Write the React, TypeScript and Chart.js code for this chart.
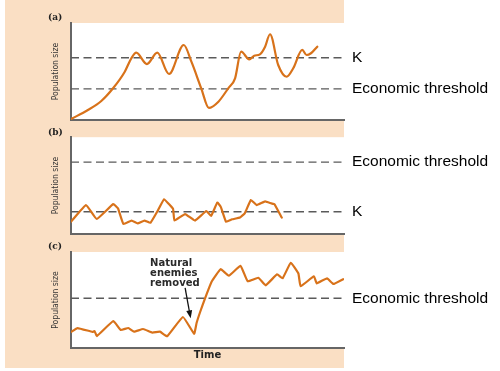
import React, { useEffect, useRef } from 'react';
import { Chart, registerables } from 'chart.js';

Chart.register(...registerables);

// ---------------- data ----------------
const panelLabels = ['(a)', '(b)', '(c)'];
const yTitle = 'Population size';
const xTitle = 'Time';
const kName = 'K';
const thresholdName = 'Economic threshold';
const noteLines = ['Natural', 'enemies', 'removed'];

// (a) population rises to K and fluctuates, sometimes under the threshold
const aTime = [0, 6.2, 11.1, 15.4, 19.7, 22.1, 23.9, 27.8, 31.6, 35.9, 41.3, 44.1, 47.7, 50.5, 54.0, 57.6, 60.1, 62.3, 65.3, 67.1, 69.2, 71.1, 72.9, 75.9, 79.0, 81.4, 84.7, 86.3, 87.9, 90.2];
const aSize = [1, 10.3, 19.6, 32.7, 49.8, 63.6, 69.4, 57.7, 69.4, 47.4, 77.3, 60.1, 32.7, 12.4, 18.9, 32.7, 43, 70.4, 62.6, 66.3, 67.7, 75.6, 88.4, 56.7, 44.6, 53.3, 72.2, 67, 68.8, 75.6];
const aK = 64.2;
const aThreshold = 32;

// (b) population fluctuates around K, far below the threshold
const bTime = [0, 5.5, 9.4, 15.5, 17.2, 19.2, 22.2, 24.4, 26.9, 29.1, 31.9, 34.1, 36.2, 37.4, 37.9, 41.8, 45.4, 49.6, 51.3, 53.6, 54.9, 56.8, 59.0, 61.9, 63.7, 65.9, 68.0, 71.1, 73.4, 74.5, 77.2];
const bSize = [12.7, 29.9, 15.5, 30.9, 26.5, 10.3, 13.9, 11.0, 13.9, 11.6, 24.7, 35.9, 29.9, 25.8, 13.9, 20.6, 13.9, 23.7, 18.6, 32.5, 27.8, 12.7, 15.2, 17.0, 21.6, 35.1, 29.9, 33.7, 31.6, 30.9, 17.0];
const bK = 23;
const bThreshold = 74.2;

// (c) population jumps above the threshold after natural enemies are removed
const cTime = [0, 2.4, 7.9, 8.6, 9.5, 15.5, 18.2, 21.0, 23.1, 26.4, 29.8, 32.6, 35.2, 41.0, 45.1, 46.0, 47.3, 49.1, 51.5, 54.8, 57.8, 62.1, 64.7, 68.6, 71.3, 75.5, 77.5, 80.5, 83.3, 84.1, 89.0, 90.0, 93.8, 96.1, 99.7];
const cSize = [16.7, 20.8, 16.7, 17.7, 12.5, 28.1, 18.8, 20.8, 17.0, 19.8, 16.1, 17.0, 12.2, 32.3, 14.8, 26.0, 37.5, 51.8, 69.1, 82.1, 75.3, 85.6, 69.5, 73.2, 65.3, 76.8, 72.6, 88.8, 77.6, 64.3, 74.7, 67.4, 72.6, 66.7, 71.7];
const cThreshold = 51.8;
const cRemovalTime = 45.1;

// ---------------- style ----------------
const ORANGE = '#D8721A';
const DASH = '#5a5a5a';
const AXIS = '#666666';
const PEACH = '#FADFC4';
const W = 500;
const LAYOUT_LEFT = 48;
const PLOT_LEFT = 71;
const PLOT_RIGHT = 344;
const TITLE_LH = 7.2;
const TOP_GAP = 20;

type RefLine = { value: number; name: string };
type Panel = {
  label: string;
  time: number[];
  size: number[];
  lines: RefLine[];
  labelY: number;
  plotTop: number;
  plotBottom: number;
  canvasBottom: number;
  showX: boolean;
  smooth: boolean;
  removal?: number;
};

const panels: Panel[] = [
  {
    label: panelLabels[0], time: aTime, size: aSize,
    lines: [{ value: aK, name: kName }, { value: aThreshold, name: thresholdName }],
    labelY: 18, plotTop: 23, plotBottom: 120, canvasBottom: 140, showX: false, smooth: true,
  },
  {
    label: panelLabels[1], time: bTime, size: bSize,
    lines: [{ value: bThreshold, name: thresholdName }, { value: bK, name: kName }],
    labelY: 132.8, plotTop: 137, plotBottom: 234, canvasBottom: 254, showX: false, smooth: false,
  },
  {
    label: panelLabels[2], time: cTime, size: cSize,
    lines: [{ value: cThreshold, name: thresholdName }],
    labelY: 247, plotTop: 252, plotBottom: 348, canvasBottom: 371, showX: true, smooth: false,
    removal: cRemovalTime,
  },
];

function buildConfig(p: Panel): any {
  const datasets: any[] = [
    {
      data: p.time.map((t, i) => ({ x: t, y: p.size[i] })),
      borderColor: ORANGE,
      borderWidth: 2.2,
      pointRadius: 0,
      fill: false,
      borderJoinStyle: 'round',
      borderCapStyle: 'round',
      ...(p.smooth ? { cubicInterpolationMode: 'monotone' } : { tension: 0.1 }),
    },
    ...p.lines.map((l) => ({
      data: [{ x: 0, y: l.value }, { x: 100, y: l.value }],
      borderColor: DASH,
      borderWidth: 1.3,
      borderDash: [8, 4.5],
      pointRadius: 0,
      fill: false,
      tension: 0,
    })),
  ];

  const background = {
    id: 'plotBackground',
    beforeDraw(chart: any) {
      const { ctx, chartArea } = chart;
      ctx.save();
      ctx.fillStyle = '#ffffff';
      ctx.fillRect(chartArea.left, chartArea.top, chartArea.right - chartArea.left, chartArea.bottom - chartArea.top);
      ctx.restore();
    },
  };

  const note = {
    id: 'removalNote',
    afterDatasetsDraw(chart: any) {
      if (p.removal === undefined) return;
      const i = p.time.indexOf(p.removal);
      if (i < 0) return;
      const px = chart.scales.x.getPixelForValue(p.time[i]);
      const py = chart.scales.y.getPixelForValue(p.size[i]);
      const ctx = chart.ctx;
      ctx.save();
      ctx.font = 'bold 10px "DejaVu Sans", sans-serif';
      ctx.fillStyle = '#2a2a2a';
      ctx.textAlign = 'left';
      ctx.textBaseline = 'middle';
      noteLines.forEach((t, k) => ctx.fillText(t, px - 44, py - 70.5 + k * 10));
      // arrow
      const x0 = px - 9, y0 = py - 46;
      const x1 = px - 3.5, y1 = py - 15.5;
      const dx = x1 - x0, dy = y1 - y0;
      const len = Math.hypot(dx, dy);
      const ux = dx / len, uy = dy / len;
      const hl = 8, hw = 3;
      ctx.strokeStyle = '#111';
      ctx.lineWidth = 1.3;
      ctx.beginPath();
      ctx.moveTo(x0, y0);
      ctx.lineTo(x1 - ux * hl * 0.8, y1 - uy * hl * 0.8);
      ctx.stroke();
      ctx.fillStyle = '#111';
      ctx.beginPath();
      ctx.moveTo(x1, y1);
      ctx.lineTo(x1 - ux * hl - uy * hw, y1 - uy * hl + ux * hw);
      ctx.lineTo(x1 - ux * hl + uy * hw, y1 - uy * hl - ux * hw);
      ctx.closePath();
      ctx.fill();
      ctx.restore();
    },
  };

  return {
    type: 'line',
    data: { datasets },
    plugins: [background, note],
    options: {
      animation: false,
      responsive: false,
      devicePixelRatio: 1,
      events: [],
      layout: { padding: { left: LAYOUT_LEFT, right: 0, top: 0, bottom: 0 } },
      plugins: {
        legend: { display: false },
        tooltip: { enabled: false },
        title: {
          display: true,
          text: p.label,
          align: 'start',
          color: '#222',
          font: { family: '"DejaVu Serif", serif', size: 9, weight: 'bold', lineHeight: 0.8 },
          padding: { top: TOP_GAP - TITLE_LH / 2, bottom: p.plotTop - p.labelY - TITLE_LH / 2 },
        },
      },
      scales: {
        x: {
          type: 'linear',
          min: 0,
          max: 100,
          position: 'bottom',
          ticks: { display: false },
          grid: { display: false, drawTicks: false },
          border: { display: true, color: AXIS, width: 2 },
          title: {
            display: p.showX,
            text: xTitle,
            color: '#222',
            font: { family: '"DejaVu Sans", sans-serif', size: 10, weight: 'bold', lineHeight: 1.2 },
            padding: { top: 0, bottom: 10 },
          },
          afterFit: (s: any) => { s.height = p.canvasBottom - p.plotBottom; },
        },
        y: {
          type: 'linear',
          min: 0,
          max: 100,
          position: 'left',
          ticks: { display: false },
          grid: { display: false, drawTicks: false },
          border: { display: true, color: AXIS, width: 2 },
          title: {
            display: true,
            text: yTitle,
            color: '#333',
            font: { family: '"DejaVu Sans Condensed", "Liberation Sans Narrow", sans-serif', size: 8.5, lineHeight: 1.2 },
            padding: { top: 2.5, bottom: 0 },
          },
          afterFit: (s: any) => { s.width = PLOT_LEFT - LAYOUT_LEFT; },
        },
        yr: {
          type: 'linear',
          min: 0,
          max: 100,
          position: 'right',
          grid: { display: false, drawTicks: false },
          border: { display: false },
          ticks: {
            display: true,
            autoSkip: false,
            padding: 8,
            color: '#000',
            font: { family: '"Liberation Sans", Arial, sans-serif', size: 15.5, lineHeight: 1.2 },
            callback: (v: number) => {
              const l = p.lines.find((r) => Math.abs(r.value - v) < 1e-6);
              return l ? l.name : '';
            },
          },
          afterBuildTicks: (s: any) => { s.ticks = p.lines.map((l) => ({ value: l.value })); },
          afterFit: (s: any) => { s.width = W - PLOT_RIGHT; },
        },
      },
    },
  };
}

function PanelChart({ panel }: { panel: Panel }) {
  const ref = useRef<HTMLCanvasElement | null>(null);
  const top = panel.labelY - TOP_GAP;
  const height = panel.canvasBottom - top;
  useEffect(() => {
    if (!ref.current) return;
    const chart = new Chart(ref.current, buildConfig(panel));
    return () => chart.destroy();
  }, [panel]);
  return (
    <div style={{ position: 'absolute', left: 0, top, width: W, height }}>
      <canvas ref={ref} width={W} height={height} style={{ display: 'block', width: W, height }} />
    </div>
  );
}

export default function App() {
  return (
    <div style={{ position: 'absolute', left: 0, top: 0, width: 500, height: 371, overflow: 'hidden', background: '#ffffff' }}>
      <div style={{ position: 'absolute', left: 5, top: 0, width: PLOT_RIGHT - 5, height: 368, background: PEACH }} />
      {panels.map((p) => (
        <PanelChart key={p.label} panel={p} />
      ))}
    </div>
  );
}
